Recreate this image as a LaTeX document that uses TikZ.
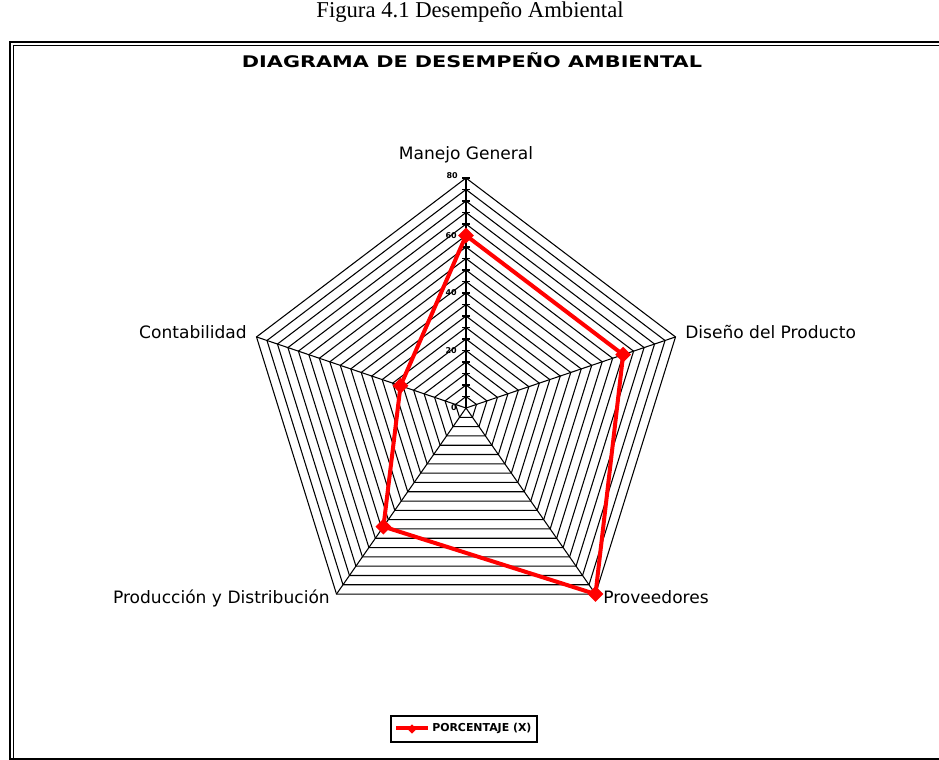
\documentclass[tikz,border=0pt]{standalone}
\usepackage{fontspec}
\setmainfont{Liberation Serif}
\newfontfamily\chartfont{DejaVu Sans}
\usetikzlibrary{shapes.geometric}

\begin{document}
\begin{tikzpicture}[x=0.75pt,y=-0.75pt,
  ring/.style={black, line width=0.8pt},
  spoke/.style={black, line width=0.8pt},
  series/.style={red, line width=3pt, line join=round},
  marker/.style={diamond, fill=red, inner sep=0pt, minimum width=12pt, minimum height=12pt},
  legmarker/.style={diamond, fill=red, inner sep=0pt, minimum width=7pt, minimum height=7pt},
  axislabel/.style={font=\chartfont\fontsize{12.8}{15}\selectfont, inner sep=0pt},
  ticklabel/.style={font=\chartfont\bfseries\fontsize{6}{7}\selectfont, inner sep=0pt},
  frameouter/.style={black, line width=1.5pt},
  frameinner/.style={black, line width=0.75pt}]
\useasboundingbox (0,0) rectangle (939,760);
\fill[white] (0,0) rectangle (939,760);

% caption above the frame
\node[font=\fontsize{17}{20}\selectfont, inner sep=0pt] (caption) at (470,12) {Figura 4.1 Desempeño Ambiental};

% double frame (right and bottom run off the page)
\draw[frameouter] (10,760) -- (10,41.5) -- (945,41.5);
\draw[frameinner] (13.5,760) -- (13.5,45) -- (945,45);
\draw[frameouter] (10,759) -- (945,759);

% chart title
\node[inner sep=0pt] (title) at (472,60)
  {\scalebox{1.3}[1]{\chartfont\bfseries\fontsize{12}{14}\selectfont DIAGRAMA DE DESEMPEÑO AMBIENTAL}};

% centre and outer vertices of the radar grid
\coordinate (c) at (466,408);
\foreach \k in {0,...,4}
  \coordinate (v\k) at ({466+220.3*sin(72*\k)},{408-230*cos(72*\k)});

% concentric rings every 4 units up to 80
\foreach \i in {1,...,20}{
  \pgfmathsetmacro\s{\i/20}
  \draw[ring] (466,{408-230*\s}) -- ({466+209.5*\s},{408-71.07*\s})
     -- ({466+129.5*\s},{408+186.07*\s}) -- ({466-129.5*\s},{408+186.07*\s})
     -- ({466-209.5*\s},{408-71.07*\s}) -- cycle;
  \draw[ring] (462,{408-11.5*\i}) -- (470,{408-11.5*\i});
}

% spokes
\foreach \k in {0,...,4} \draw[spoke] (c) -- (v\k);

% value axis labels
\node[ticklabel, anchor=east] (t0) at (457,408) {0};
\node[ticklabel, anchor=east] (t20) at (457,350.5) {20};
\node[ticklabel, anchor=east] (t40) at (457,293) {40};
\node[ticklabel, anchor=east] (t60) at (457,235.5) {60};
\node[ticklabel, anchor=east] (t80) at (458,176) {80};

% category labels
\node[axislabel, anchor=base] (lmg) at (466,159) {Manejo General};
\node[axislabel, anchor=base west] (ldp) at (685,338) {Diseño del Producto};
\node[axislabel, anchor=base east] (lct) at (247,338) {Contabilidad};
\node[axislabel, anchor=base east] (lpd) at (330,603) {Producción y Distribución};
\node[axislabel, anchor=base west] (lpv) at (603,603) {Proveedores};

% data series: 60, 60, 80, 51, 25
\node[marker] (m0) at ({466+220.3*sin(0)*60/80},{408-230*cos(0)*60/80}) {};
\node[marker] (m1) at ({466+220.3*sin(72)*60/80},{408-230*cos(72)*60/80}) {};
\node[marker] (m2) at ({466+220.3*sin(144)*80/80},{408-230*cos(144)*80/80}) {};
\node[marker] (m3) at ({466+220.3*sin(216)*51/80},{408-230*cos(216)*51/80}) {};
\node[marker] (m4) at ({466+220.3*sin(288)*25/80},{408-230*cos(288)*25/80}) {};
\draw[series] (m0.center) -- (m1.center) -- (m2.center) -- (m3.center) -- (m4.center) -- cycle;

% legend
\draw[black, line width=1.5pt] (391,716) rectangle (537,742);
\coordinate (la) at (396,728);
\coordinate (lb) at (428,728);
\draw[series] (la) -- (lb);
\node[legmarker] (lm) at (412,729) {};
\node[inner sep=0pt, font=\chartfont\bfseries\fontsize{8.2}{9}\selectfont, anchor=west] (ltext) at (432,728) {PORCENTAJE (X)};
\end{tikzpicture}
\end{document}
